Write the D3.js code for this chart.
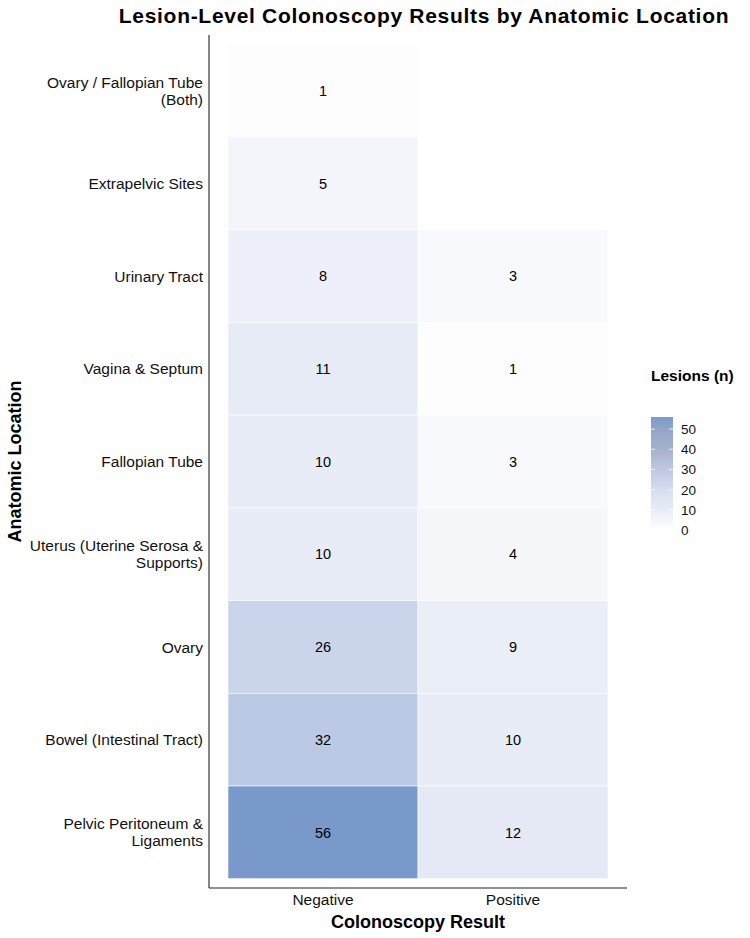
<!DOCTYPE html>
<html><head><meta charset="utf-8">
<script src="https://cdn.jsdelivr.net/npm/d3@7"></script>
<style>body{margin:0;background:#fff}svg{font-family:"Liberation Sans",Arial,Helvetica,sans-serif}</style>
</head><body><svg id="c" width="750" height="938"></svg>
<script>
const locations = ["Ovary / Fallopian Tube\n(Both)","Extrapelvic Sites","Urinary Tract","Vagina & Septum","Fallopian Tube","Uterus (Uterine Serosa &\nSupports)","Ovary","Bowel (Intestinal Tract)","Pelvic Peritoneum &\nLigaments"];
const results = ["Negative","Positive"];
const negativeValues = [1,5,8,11,10,10,26,32,56];
const positiveValues = [null,null,3,1,3,4,9,10,12];
const legendTicks = [0,10,20,30,40,50];

// palette (styles)
const paletteDomain = [0,10,26,32,56];
const paletteColors = ["#ffffff","#e8ecf6","#cad5eb","#bcc9e5","#7899ca"];
const legendDomain = [0,10,20,30,40,48,56];
const legendColors = ["#ffffff","#e8ecf6","#d6ddef","#bec8e2","#a6b1cb","#97a8c8","#7b9bcb"];

const cells = [];
locations.forEach((loc,i)=>{
  if (negativeValues[i]!=null) cells.push({loc, res:"Negative", v:negativeValues[i]});
  if (positiveValues[i]!=null) cells.push({loc, res:"Positive", v:positiveValues[i]});
});

const svg = d3.select("#c");
const L=209, R=627, T=35, B=888;
const x = d3.scaleBand().domain(results).range([L+(R-L)*0.1/2.2, R-(R-L)*0.1/2.2]).padding(0);
const y = d3.scaleBand().domain(locations).range([T+(B-T)*0.1/9.2, B-(B-T)*0.1/9.2]).padding(0);
const vmax = d3.max(cells, d=>d.v);
const color = d3.scaleLinear().domain(paletteDomain).range(paletteColors).interpolate(d3.interpolateLab);
const lcolor = d3.scaleLinear().domain(legendDomain).range(legendColors).interpolate(d3.interpolateLab);

svg.append("text").attr("x",424).attr("y",23).attr("text-anchor","middle")
  .attr("font-size",21).attr("letter-spacing",0.7).attr("font-weight","bold").attr("fill","#000")
  .text("Lesion-Level Colonoscopy Results by Anatomic Location");

svg.append("g").selectAll("rect").data(cells).join("rect")
  .attr("x",d=>x(d.res)).attr("y",d=>y(d.loc))
  .attr("width",x.bandwidth()).attr("height",y.bandwidth())
  .attr("fill",d=>color(d.v)).attr("stroke","#ffffff").attr("stroke-width",0.6);

svg.append("g").selectAll("text").data(cells).join("text")
  .attr("x",d=>x(d.res)+x.bandwidth()/2).attr("y",d=>y(d.loc)+y.bandwidth()/2)
  .attr("dy","0.36em").attr("text-anchor","middle").attr("font-size",14.5).attr("fill","#000")
  .text(d=>d.v);

// axes
const yAxis = svg.append("g").attr("transform",`translate(${L},0)`)
  .call(d3.axisLeft(y).tickSize(0).tickPadding(6).tickFormat(()=>""));
yAxis.select(".domain").attr("d",`M0,${T}V${B}`).attr("stroke","#222").attr("stroke-width",1.1);
yAxis.selectAll(".tick text").remove();
yAxis.selectAll(".tick").each(function(d){
  const lines = d.split("\n");
  const t = d3.select(this).append("text").attr("text-anchor","end").attr("fill","#111").attr("font-size",15.5);
  const n = lines.length;
  lines.forEach((ln,k)=>{
    t.append("tspan").attr("x",-6).attr("y",(k-(n-1)/2)*17).attr("dy","0.36em").text(ln);
  });
});

const xAxis = svg.append("g").attr("transform",`translate(0,${B})`)
  .call(d3.axisBottom(x).tickSize(0).tickPadding(6));
xAxis.select(".domain").attr("d",`M${L},0H${R}`).attr("stroke","#222").attr("stroke-width",1.1);
xAxis.selectAll(".tick text").attr("font-size",15.5).attr("fill","#111").attr("font-family",null);

svg.append("text").attr("x",(L+R)/2).attr("y",928).attr("text-anchor","middle")
  .attr("font-size",18).attr("font-weight","bold").attr("fill","#000").text("Colonoscopy Result");
svg.append("text").attr("transform",`translate(21,${(T+B)/2}) rotate(-90)`).attr("text-anchor","middle")
  .attr("font-size",18).attr("font-weight","bold").attr("fill","#000").text("Anatomic Location");

// legend
const lx=651, lw=22, lTop=417, lBot=530;
const ls = d3.scaleLinear().domain([0,vmax]).range([lBot,lTop]);
svg.append("text").attr("x",lx).attr("y",381).attr("font-size",15.5).attr("font-weight","bold").attr("fill","#000").text("Lesions (n)");
const defs = svg.append("defs");
const grad = defs.append("linearGradient").attr("id","lg").attr("x1",0).attr("y1",1).attr("x2",0).attr("y2",0);
d3.range(0,1.0001,0.05).forEach(t=>grad.append("stop").attr("offset",t).attr("stop-color",lcolor(t*vmax)));
svg.append("rect").attr("x",lx).attr("y",lTop).attr("width",lw).attr("height",lBot-lTop).attr("fill","url(#lg)");
const lg = svg.append("g");
legendTicks.forEach(t=>{
  lg.append("line").attr("x1",lx).attr("x2",lx+4).attr("y1",ls(t)).attr("y2",ls(t)).attr("stroke","#fff").attr("stroke-width",0.8);
  lg.append("line").attr("x1",lx+lw-4).attr("x2",lx+lw).attr("y1",ls(t)).attr("y2",ls(t)).attr("stroke","#fff").attr("stroke-width",0.8);
  lg.append("text").attr("x",lx+lw+8).attr("y",ls(t)).attr("dy","0.36em").attr("font-size",13.5).attr("fill","#111").text(t);
});
</script></body></html>
